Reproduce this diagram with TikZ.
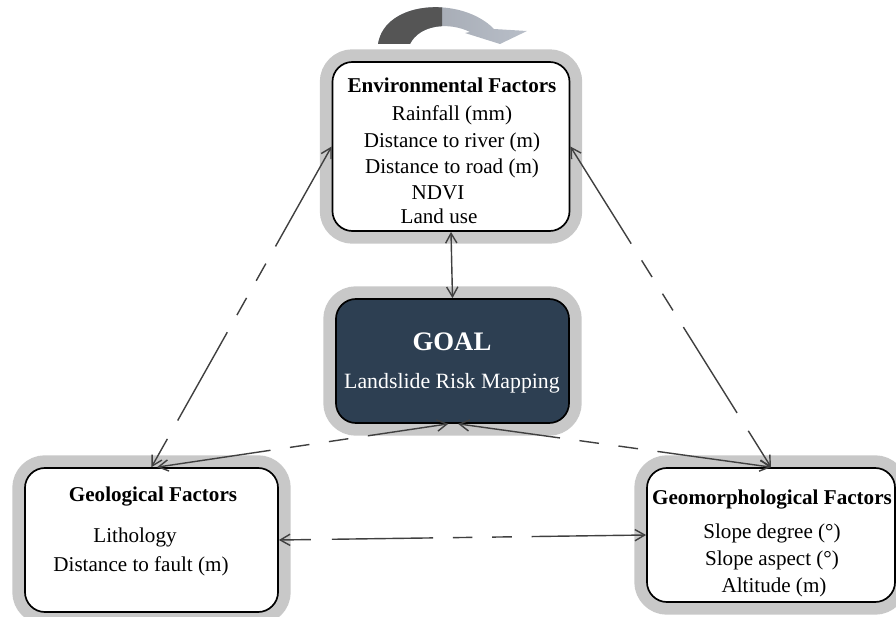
\documentclass[tikz,border=0pt]{standalone}
\usepackage{fontspec}
\setmainfont{Liberation Serif}
\usetikzlibrary{arrows.meta}
\definecolor{goalblue}{RGB}{45,63,82}
\definecolor{framegray}{RGB}{200,200,200}
\definecolor{linkgray}{RGB}{64,64,64}
\definecolor{benddark}{RGB}{85,85,85}
\definecolor{bendlight}{RGB}{184,190,200}
\begin{document}
\begin{tikzpicture}[x=0.025cm, y=-0.025cm,
    factor/.style={draw, line width=1.2pt, rounded corners=0.5cm, fill=white, inner sep=0pt,
        preaction={draw=framegray, line width=18pt}},
    txt/.style={font=\fontsize{15}{18}\selectfont},
    head/.style={font=\fontsize{15}{18}\selectfont\bfseries},
    link/.style={draw=linkgray, line width=1pt,
        {Straight Barb[length=7pt,width=8pt]}-{Straight Barb[length=7pt,width=8pt]}},
    longdash/.style={dash pattern=on 80pt off 14pt on 14pt off 14pt on 14pt off 14pt on 72pt off 15pt on 300pt}]
    \useasboundingbox (0,0) rectangle (896,617);

    % bent arrow on top
    \shade[left color=bendlight!85!black, right color=bendlight]
        (378,44) .. controls (385,0) and (462,-4) .. (494,29) -- (527,31) -- (500,44) -- (465,33)
        -- (470,32) .. controls (450,22) and (420,24) .. (410,44) -- cycle;
    \begin{scope}
        \clip (370,0) rectangle (442,50);
        \fill[benddark] (378,44) .. controls (385,0) and (462,-4) .. (494,29) -- (527,31) -- (500,44) -- (465,33)
            -- (470,32) .. controls (450,22) and (420,24) .. (410,44) -- cycle;
    \end{scope}

    % factor boxes
    \node[factor, minimum width=5.925cm, minimum height=4.225cm] (env) at (451,146.5) {};
    \node[factor, fill=goalblue, minimum width=5.825cm, minimum height=3.1cm] (goal) at (452.5,361) {};
    \node[factor, minimum width=6.325cm, minimum height=3.6cm] (geo) at (151.5,540) {};
    \node[factor, minimum width=6.2cm, minimum height=3.35cm] (geom) at (771,535) {};

    % environmental
    \node[head] (envtitle) at (452,85) {Environmental Factors};
    \node[txt] (rain) at (452,115) {Rainfall (mm)};
    \node[txt] (river) at (452,142) {Distance to river (m)};
    \node[txt] (road) at (452,168) {Distance to road (m)};
    \node[txt] (ndvi) at (438,193) {NDVI};
    \node[txt] (landuse) at (439,216) {Land use};

    % goal
    \node[head, text=white, font=\fontsize{19}{22}\selectfont\bfseries] (goaltitle) at (452,342) {GOAL};
    \node[txt, text=white, font=\fontsize{15.5}{18}\selectfont] (mapping) at (452,383) {Landslide Risk Mapping};

    % geological
    \node[head] (geotitle) at (153,497) {Geological Factors};
    \node[txt] (litho) at (135,537) {Lithology};
    \node[txt] (fault) at (141,566) {Distance to fault (m)};

    % geomorphological
    \node[head] (geomtitle) at (772,500) {Geomorphological Factors};
    \node[txt] (slope) at (772,533) {Slope degree (°)};
    \node[txt] (aspect) at (772,560) {Slope aspect (°)};
    \node[txt] (altitude) at (774,587) {Altitude (m)};

    % links
    \draw[link] (env.south) -- (goal.north);
    \draw[link, longdash] (env.west) -- (geo.north);
    \draw[link, longdash] (env.east) -- (geom.north);
    \draw[link, longdash] (geom.west) -- (geo.east);
    \draw[link, longdash] ([xshift=4pt]geo.north) -- ([xshift=-3pt]goal.south);
    \draw[link, longdash] (geom.north) -- ([xshift=4pt]goal.south);
\end{tikzpicture}
\end{document}
